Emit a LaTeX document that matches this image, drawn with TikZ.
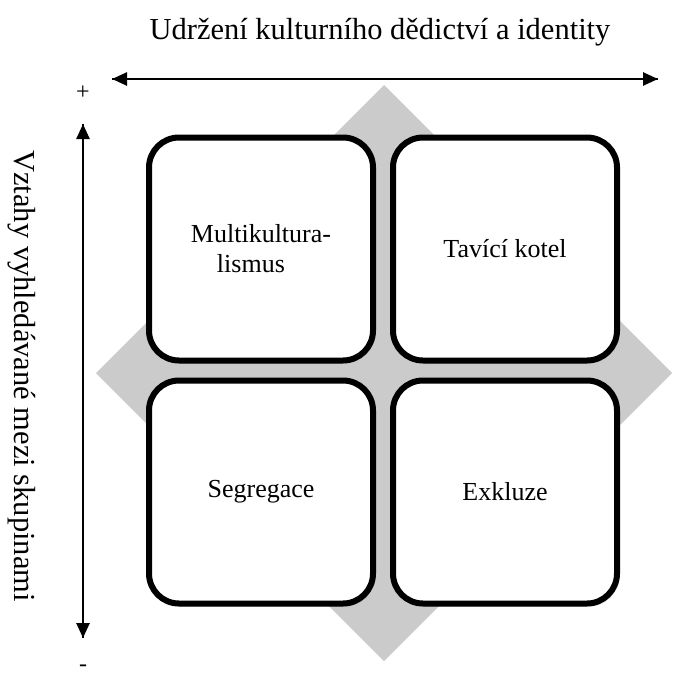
\documentclass[tikz,border=0pt]{standalone}
\usepackage{fontspec}
\setmainfont{Liberation Serif}
\usepackage{tikz}
\usetikzlibrary{calc}
\usetikzlibrary{arrows.meta}
\usetikzlibrary{shadows}
\usetikzlibrary{positioning}

\definecolor{diamondgray}{RGB}{203,203,203}

\begin{document}
\begin{tikzpicture}[x=1pt,y=-1pt]
    \tikzstyle{quad}=[draw=black,line width=6pt,fill=white,rounded corners=30pt,
        minimum width=224pt,minimum height=223pt,inner sep=0pt,
        font=\fontsize{26}{30}\selectfont,node distance=14pt,
        drop shadow={opacity=0.25,shadow xshift=2pt,shadow yshift=-3pt}]
    \tikzstyle{axis}=[draw=black,line width=2.5pt,-{Triangle[length=15pt,width=13pt]}]
    \tikzstyle{lbl}=[font=\fontsize{30.5}{36}\selectfont,inner sep=0pt]

    \useasboundingbox (0,0) rectangle (679,675);

    % grey diamond behind the four fields
    \fill[diamondgray] (384,85) -- (672,373) -- (384,661) -- (96,373) -- cycle;

    \node[quad] (multi) at (261,249) {};
    \node[quad,right=of multi] (tavici) {Tavící kotel};
    \node[quad,below=of multi] (segreg) {Segregace};
    \node[quad,below=of tavici] (exkluze) {Exkluze};
    \node[font=\fontsize{26}{30}\selectfont,align=left,inner sep=0pt] (multitext) at (multi.center)
        {Multikultura-\\\hspace*{26pt}lismus};

    % axes
    \node[lbl] (horiz) at (380,32) {Udržení kulturního dědictví a identity};
    \node[lbl,rotate=-90] (vert) at (22,376) {Vztahy vyhledávané mezi skupinami};

    \coordinate (hleft) at (112,79);
    \coordinate (hright) at (658,79);
    \coordinate (vtop) at (83,124);
    \coordinate (vbottom) at (83,638);
    \draw[axis] (hleft) -- (hright);
    \draw[axis] (hright) -- (hleft);
    \draw[axis] (vbottom) -- (vtop);
    \draw[axis] (vtop) -- (vbottom);

    \node[lbl,font=\fontsize{24}{28}\selectfont] (plus) at (83,93) {+};
    \node[lbl,font=\fontsize{24}{28}\selectfont] (minus) at (83,668) {-};
\end{tikzpicture}
\end{document}
